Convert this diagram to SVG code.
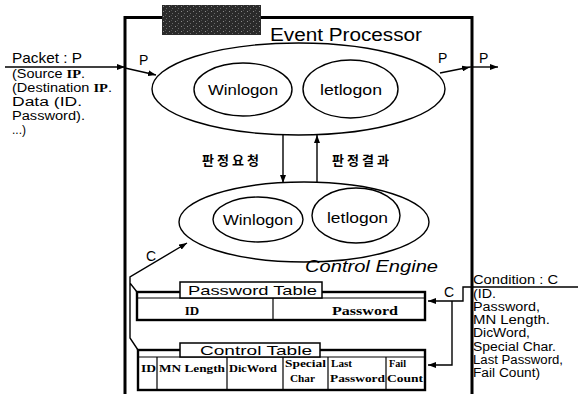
<svg xmlns="http://www.w3.org/2000/svg" width="581" height="394" viewBox="0 0 581 394">
<defs>
<marker id="ah" markerWidth="8" markerHeight="6" refX="8" refY="3" orient="auto" markerUnits="userSpaceOnUse">
<path d="M0,0 L8,3 L0,6 z" fill="#000"/>
</marker>
<pattern id="noise" width="6" height="5" patternUnits="userSpaceOnUse">
<rect width="6" height="5" fill="#2a2a2a"/>
<rect x="1" y="1" width="1" height="1" fill="#8a8a8a"/>
<rect x="4" y="3" width="1" height="1" fill="#6a6a6a"/>
<rect x="3" y="0" width="1" height="1" fill="#505050"/>
</pattern>
</defs>
<style>
.sans{font-family:"Liberation Sans",Arial,sans-serif;fill:#000}
.serif{font-family:"Liberation Serif","Times New Roman",serif;font-weight:bold;fill:#000}
.kr{font-family:"Noto Sans CJK KR",sans-serif;font-weight:bold;fill:#000;font-size:13px;letter-spacing:3px}
.ln{fill:none;stroke:#000;stroke-width:1.4}
.el{fill:none;stroke:#000;stroke-width:1.4}
.tbl{fill:#fff;stroke:#000;stroke-width:2.4}
.tab{fill:#fff;stroke:#000;stroke-width:1.5}
.cell{stroke:#000;stroke-width:1.2;fill:none}
.sm{font-size:12px}
</style>
<rect width="581" height="394" fill="#fff"/>

<g id="frame">
<path d="M125,394 V17.5 H163 M258,17.5 H472 V394" fill="none" stroke="#000" stroke-width="3"/>
<rect x="162" y="5" width="99" height="30" fill="url(#noise)"/>
</g>

<g id="event-processor">
<text class="sans" x="270" y="41" font-size="18" textLength="152" lengthAdjust="spacingAndGlyphs">Event Processor</text>
<ellipse class="el" cx="298.5" cy="89" rx="146.5" ry="46"/>
<g id="ep-winlogon">
<ellipse class="el" cx="243" cy="89.5" rx="49" ry="26.5"/>
<text class="sans" x="208" y="95" font-size="15" textLength="70" lengthAdjust="spacingAndGlyphs">Winlogon</text>
</g>
<g id="ep-letlogon">
<ellipse class="el" cx="350.5" cy="89" rx="47.5" ry="29"/>
<text class="sans" x="320" y="95" font-size="15" textLength="62" lengthAdjust="spacingAndGlyphs">letlogon</text>
</g>
</g>

<g id="control-engine">
<ellipse class="el" cx="304" cy="222" rx="125" ry="40"/>
<g id="ce-winlogon">
<ellipse class="el" cx="258" cy="219.5" rx="45" ry="22.5"/>
<text class="sans" x="223" y="225" font-size="15" textLength="70" lengthAdjust="spacingAndGlyphs">Winlogon</text>
</g>
<g id="ce-letlogon">
<ellipse class="el" cx="356" cy="215.5" rx="44" ry="27.5"/>
<text class="sans" x="327" y="223" font-size="15" textLength="61" lengthAdjust="spacingAndGlyphs">letlogon</text>
</g>
<text class="sans" x="305" y="272" font-size="17" font-style="italic" textLength="133" lengthAdjust="spacingAndGlyphs">Control Engine</text>
</g>

<g id="packet">
<text class="sans" x="12" y="63" font-size="15" textLength="70" lengthAdjust="spacingAndGlyphs">Packet : P</text>
<text class="sans sm" x="12" y="78" textLength="73" lengthAdjust="spacingAndGlyphs">(Source <tspan class="serif">IP</tspan>.</text>
<text class="sans sm" x="12" y="92" textLength="100" lengthAdjust="spacingAndGlyphs">(Destination <tspan class="serif">IP</tspan>.</text>
<text class="sans sm" x="12" y="106" textLength="70" lengthAdjust="spacingAndGlyphs">Data (ID.</text>
<text class="sans sm" x="12" y="120" textLength="73" lengthAdjust="spacingAndGlyphs">Password).</text>
<text class="sans sm" x="12" y="134">...)</text>
</g>

<g id="condition">
<text class="sans" x="473" y="284" font-size="13.5" textLength="85" lengthAdjust="spacingAndGlyphs">Condition : C</text>
<text class="sans sm" x="473" y="298" textLength="23" lengthAdjust="spacingAndGlyphs">(ID.</text>
<text class="sans sm" x="473" y="311" textLength="67" lengthAdjust="spacingAndGlyphs">Password,</text>
<text class="sans sm" x="473" y="324" textLength="77" lengthAdjust="spacingAndGlyphs">MN Length.</text>
<text class="sans sm" x="473" y="337" textLength="57" lengthAdjust="spacingAndGlyphs">DicWord,</text>
<text class="sans sm" x="473" y="351" textLength="83" lengthAdjust="spacingAndGlyphs">Special Char.</text>
<text class="sans sm" x="473" y="364" textLength="90" lengthAdjust="spacingAndGlyphs">Last Password,</text>
<text class="sans sm" x="473" y="377" textLength="67" lengthAdjust="spacingAndGlyphs">Fail Count)</text>
</g>

<g id="password-table">
<rect class="tbl" x="137" y="292" width="288" height="28"/>
<line class="cell" x1="137" y1="298" x2="425" y2="298"/>
<line class="cell" x1="273" y1="298" x2="273" y2="320"/>
<rect class="tab" x="180" y="282" width="142" height="16"/>
<text class="sans" x="188" y="295" font-size="13" textLength="129" lengthAdjust="spacingAndGlyphs">Password Table</text>
<text class="serif" x="192" y="315" font-size="13" text-anchor="middle">ID</text>
<text class="serif" x="332" y="315" font-size="13" textLength="66" lengthAdjust="spacingAndGlyphs">Password</text>
</g>

<g id="control-table">
<rect class="tbl" x="138" y="350" width="287" height="40"/>
<line class="cell" x1="138" y1="357" x2="425" y2="357"/>
<path class="cell" d="M157,357 V390 M227,357 V390 M283,357 V390 M328,357 V390 M386,357 V390"/>
<rect class="tab" x="180" y="343" width="140" height="14"/>
<text class="sans" x="200" y="355" font-size="13" textLength="112" lengthAdjust="spacingAndGlyphs">Control Table</text>
<text class="serif" x="141" y="372" font-size="10.5" textLength="15" lengthAdjust="spacingAndGlyphs">ID</text>
<text class="serif" x="159" y="372" font-size="10.5" textLength="66" lengthAdjust="spacingAndGlyphs">MN Length</text>
<text class="serif" x="229" y="372" font-size="10.5" textLength="48" lengthAdjust="spacingAndGlyphs">DicWord</text>
<text class="serif" x="285" y="367" font-size="10.5" textLength="41" lengthAdjust="spacingAndGlyphs">Special</text>
<text class="serif" x="290" y="382" font-size="10.5" textLength="25" lengthAdjust="spacingAndGlyphs">Char</text>
<text class="serif" x="331" y="367" font-size="10.5" textLength="21" lengthAdjust="spacingAndGlyphs">Last</text>
<text class="serif" x="330" y="382" font-size="10.5" textLength="55" lengthAdjust="spacingAndGlyphs">Password</text>
<text class="serif" x="389" y="367" font-size="10.5" textLength="17" lengthAdjust="spacingAndGlyphs">Fail</text>
<text class="serif" x="387" y="382" font-size="10.5" textLength="36" lengthAdjust="spacingAndGlyphs">Count</text>
</g>

<g id="connectors">
<line class="ln" x1="5" y1="67" x2="125" y2="67" marker-end="url(#ah)"/>
<line class="ln" x1="125" y1="68" x2="156" y2="75" marker-end="url(#ah)"/>
<text class="sans" x="139" y="65" font-size="14">P</text>
<line class="ln" x1="440" y1="73" x2="470" y2="67" marker-end="url(#ah)"/>
<text class="sans" x="438" y="63" font-size="14">P</text>
<line class="ln" x1="470" y1="67" x2="498" y2="67" marker-end="url(#ah)"/>
<text class="sans" x="479" y="63" font-size="14">P</text>
<line class="ln" x1="283" y1="135" x2="283" y2="183" marker-end="url(#ah)"/>
<line class="ln" x1="317" y1="183" x2="317" y2="135" marker-end="url(#ah)"/>
<text class="kr" x="202" y="165">판정요청</text>
<text class="kr" x="332" y="165">판정결과</text>
<path class="ln" d="M138,350 L130,338 V283 L137,292 M130,283 V277 L187,243" marker-end="url(#ah)"/>
<text class="sans" x="146" y="261" font-size="14">C</text>
<path class="ln" d="M578,287 H463 V301 H428" marker-end="url(#ah)"/>
<path class="ln" d="M452,301 V365 H428" marker-end="url(#ah)"/>
<text class="sans" x="444" y="297" font-size="14">C</text>
</g>
</svg>
